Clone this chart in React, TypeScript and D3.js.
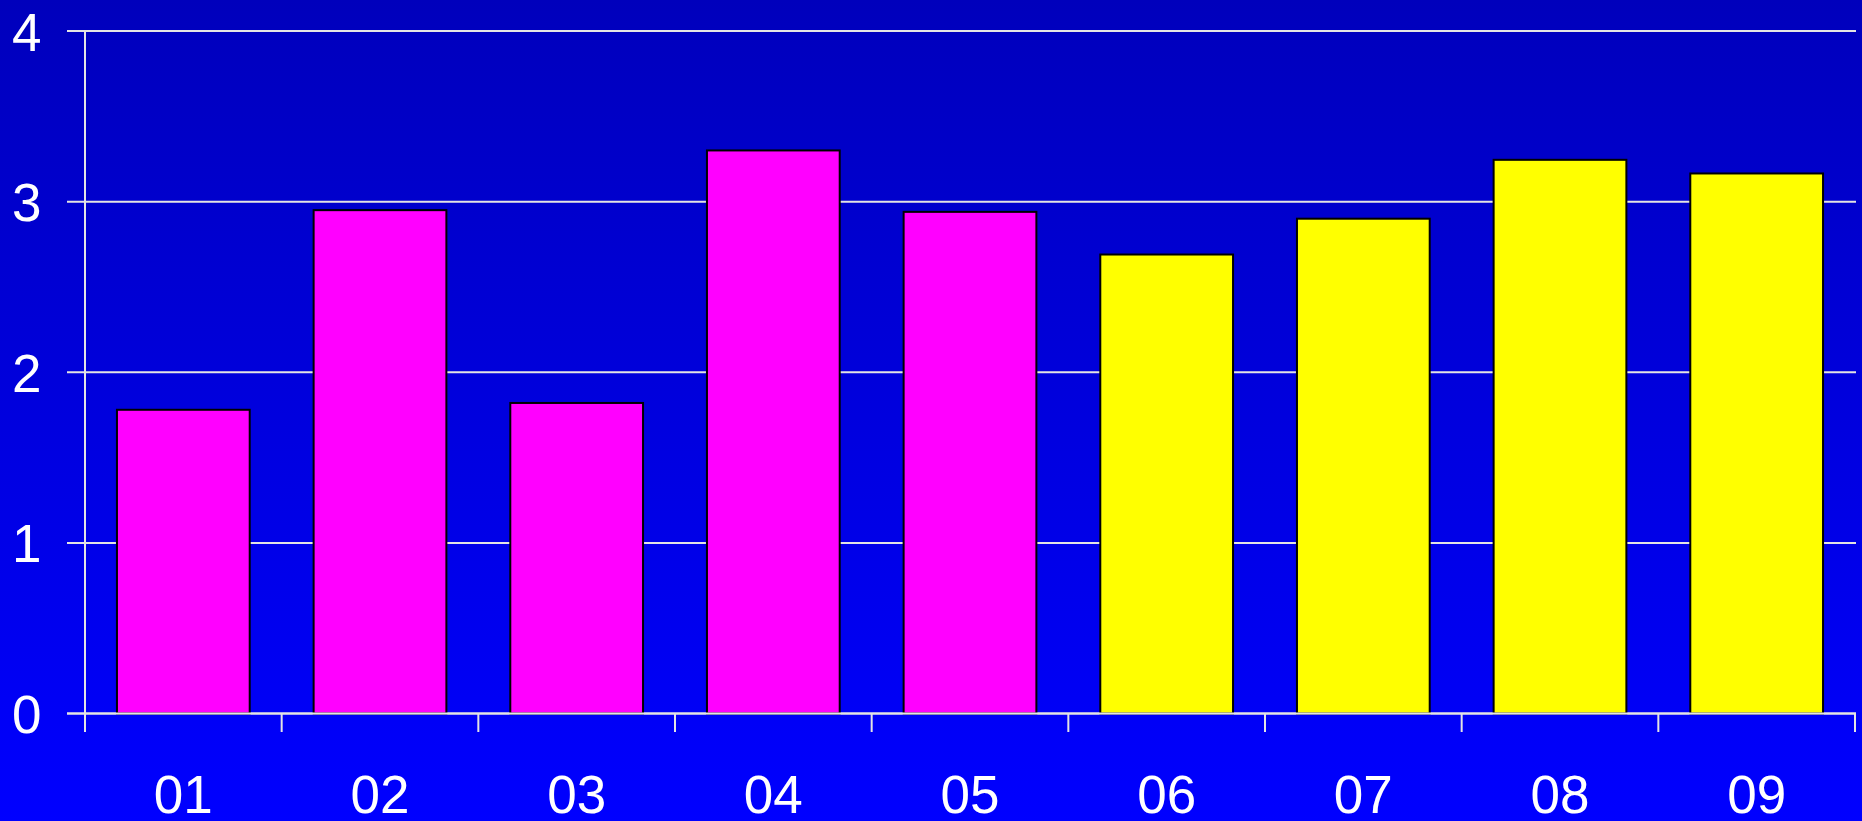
import React from "react";
import * as d3 from "d3";

const categories = ["01", "02", "03", "04", "05", "06", "07", "08", "09"];
const values = [1.78, 2.95, 1.82, 3.3, 2.94, 2.69, 2.9, 3.245, 3.165];
const barColors = ["#FF00FF", "#FF00FF", "#FF00FF", "#FF00FF", "#FF00FF", "#FFFF00", "#FFFF00", "#FFFF00", "#FFFF00"];
const yTicks = [0, 1, 2, 3, 4];

const W = 1862;
const H = 821;
const left = 85;
const right = 1855;
const top = 31;
const bottom = 713.5;

export default function App() {
  const x = d3.scaleBand<string>().domain(categories).range([left, right]).paddingInner(0.325).paddingOuter(0.1625);
  const band = d3.scaleBand<string>().domain(categories).range([left, right]);
  const y = d3.scaleLinear().domain([0, 4]).range([bottom, top]);
  const font = "'Liberation Sans', Arial, sans-serif";
  const gridColor = "#E4E4E4";
  return (
    <svg width={W} height={H} style={{ position: "absolute", left: 0, top: 0, display: "block" }}>
      <defs>
        <linearGradient id="bg" x1="0" y1="0" x2="0" y2="1">
          <stop offset="0" stopColor="#0000BC" />
          <stop offset="1" stopColor="#0000FF" />
        </linearGradient>
      </defs>
      <rect x={0} y={0} width={W} height={H} fill="url(#bg)" />
      {yTicks.map((t) => (
        <g key={t}>
          <line x1={67} x2={1856} y1={y(t)} y2={y(t)} stroke={gridColor} strokeWidth={2} />
          <text x={12} y={y(t) + 19.5} fill="#fff" fontFamily={font} fontSize={53}>
            {t}
          </text>
        </g>
      ))}
      <line x1={left} x2={left} y1={top} y2={732} stroke={gridColor} strokeWidth={2} />
      {categories.map((c) => (
        <line key={"t" + c} x1={band(c)! + band.bandwidth()} x2={band(c)! + band.bandwidth()} y1={bottom} y2={732} stroke={gridColor} strokeWidth={2} />
      ))}
      {categories.map((c, i) => (
        <rect
          key={c}
          x={x(c)}
          y={y(values[i])}
          width={x.bandwidth()}
          height={bottom - y(values[i])}
          fill={barColors[i]}
          stroke="#000"
          strokeWidth={2}
        />
      ))}
      <line x1={67} x2={1856} y1={bottom} y2={bottom} stroke={gridColor} strokeWidth={2} />
      {categories.map((c) => (
        <text key={"l" + c} x={band(c)! + band.bandwidth() / 2} y={813} fill="#fff" fontFamily={font} fontSize={53} textAnchor="middle">
          {c}
        </text>
      ))}
    </svg>
  );
}
